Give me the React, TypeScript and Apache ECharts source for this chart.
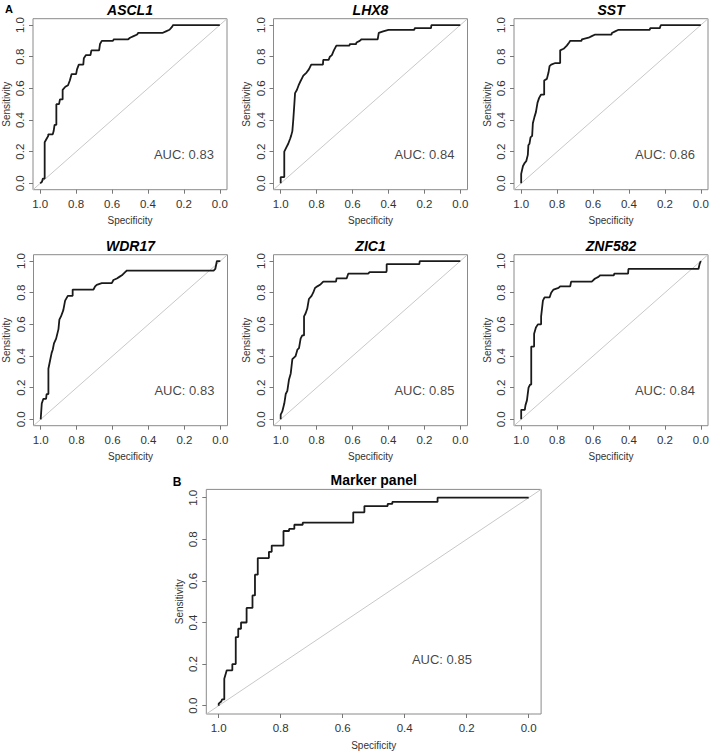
import React, { useEffect, useRef } from "react";
import * as echarts from "echarts";

// ---------- data ----------
const AXIS_TICKS = [0, 0.2, 0.4, 0.6, 0.8, 1.0];
const PANEL_NAMES = ["ASCL1", "LHX8", "SST", "WDR17", "ZIC1", "ZNF582", "Marker panel"];
const AUC_TEXTS = ["AUC: 0.83", "AUC: 0.84", "AUC: 0.86", "AUC: 0.83", "AUC: 0.85", "AUC: 0.84", "AUC: 0.85"];

// ROC curves as [specificity, sensitivity]
const ASCL1 = [[1.0,0],[0.99,0.01],[0.985,0.03],[0.975,0.03],[0.975,0.26],[0.965,0.28],[0.955,0.30],[0.955,0.31],[0.93,0.31],[0.925,0.33],[0.92,0.37],[0.91,0.37],[0.91,0.50],[0.895,0.50],[0.89,0.53],[0.875,0.53],[0.875,0.59],[0.86,0.61],[0.845,0.62],[0.835,0.65],[0.825,0.69],[0.80,0.69],[0.795,0.72],[0.785,0.75],[0.76,0.75],[0.757,0.79],[0.745,0.81],[0.72,0.81],[0.715,0.84],[0.672,0.84],[0.667,0.88],[0.657,0.90],[0.595,0.90],[0.59,0.91],[0.51,0.91],[0.50,0.92],[0.48,0.93],[0.46,0.94],[0.455,0.95],[0.32,0.95],[0.30,0.96],[0.28,0.97],[0.265,0.99],[0.26,1.0],[0,1.0]];
const LHX8 = [[1.0,0],[1.0,0.04],[0.98,0.04],[0.98,0.20],[0.967,0.23],[0.958,0.25],[0.948,0.28],[0.942,0.30],[0.935,0.33],[0.93,0.40],[0.924,0.50],[0.92,0.57],[0.91,0.59],[0.90,0.62],[0.892,0.64],[0.883,0.66],[0.874,0.68],[0.865,0.69],[0.856,0.70],[0.843,0.72],[0.83,0.75],[0.765,0.75],[0.763,0.78],[0.733,0.78],[0.726,0.80],[0.715,0.81],[0.704,0.84],[0.69,0.87],[0.617,0.87],[0.615,0.88],[0.58,0.88],[0.578,0.89],[0.56,0.90],[0.55,0.91],[0.46,0.91],[0.457,0.93],[0.454,0.95],[0.43,0.96],[0.40,0.97],[0.256,0.97],[0.254,0.98],[0.163,0.98],[0.161,1.0],[0,1.0]];
const SST = [[1.0,0],[1.0,0.06],[0.99,0.11],[0.98,0.13],[0.972,0.14],[0.963,0.18],[0.96,0.24],[0.954,0.25],[0.948,0.29],[0.939,0.30],[0.935,0.38],[0.926,0.42],[0.918,0.45],[0.909,0.51],[0.9,0.54],[0.89,0.56],[0.872,0.56],[0.872,0.65],[0.857,0.66],[0.848,0.70],[0.842,0.74],[0.833,0.75],[0.81,0.76],[0.783,0.76],[0.783,0.84],[0.764,0.85],[0.746,0.87],[0.733,0.89],[0.727,0.90],[0.664,0.90],[0.662,0.91],[0.625,0.92],[0.607,0.93],[0.588,0.94],[0.497,0.94],[0.495,0.95],[0.477,0.96],[0.458,0.97],[0.284,0.97],[0.282,0.98],[0.228,0.98],[0.226,0.99],[0.222,1.0],[0,1.0]];
const WDR17 = [[1.0,0],[0.994,0.10],[0.985,0.13],[0.97,0.13],[0.967,0.16],[0.957,0.16],[0.957,0.32],[0.948,0.37],[0.939,0.42],[0.933,0.44],[0.926,0.48],[0.914,0.51],[0.901,0.57],[0.896,0.63],[0.887,0.65],[0.874,0.69],[0.864,0.75],[0.849,0.78],[0.822,0.78],[0.822,0.82],[0.706,0.82],[0.697,0.84],[0.688,0.85],[0.66,0.86],[0.604,0.86],[0.595,0.88],[0.576,0.89],[0.562,0.90],[0.548,0.91],[0.53,0.93],[0.52,0.94],[0.037,0.94],[0.028,0.95],[0.019,1.0],[0,1.0]];
const ZIC1 = [[1.0,0],[1.0,0.03],[0.991,0.05],[0.98,0.10],[0.972,0.16],[0.963,0.18],[0.954,0.25],[0.944,0.29],[0.935,0.38],[0.917,0.40],[0.907,0.44],[0.898,0.45],[0.889,0.51],[0.88,0.53],[0.87,0.53],[0.87,0.65],[0.861,0.67],[0.852,0.70],[0.843,0.76],[0.828,0.78],[0.819,0.80],[0.809,0.83],[0.796,0.84],[0.781,0.85],[0.763,0.87],[0.692,0.87],[0.689,0.89],[0.633,0.89],[0.624,0.92],[0.513,0.92],[0.505,0.93],[0.412,0.93],[0.41,0.94],[0.41,0.98],[0.228,0.98],[0.226,1.0],[0,1.0]];
const ZNF582 = [[1.0,0],[1.0,0.06],[0.98,0.06],[0.976,0.09],[0.968,0.12],[0.959,0.20],[0.95,0.22],[0.944,0.22],[0.944,0.46],[0.928,0.46],[0.928,0.54],[0.918,0.58],[0.907,0.60],[0.889,0.60],[0.889,0.65],[0.879,0.75],[0.87,0.77],[0.842,0.77],[0.833,0.80],[0.82,0.82],[0.792,0.83],[0.783,0.84],[0.727,0.84],[0.722,0.87],[0.607,0.87],[0.598,0.88],[0.588,0.89],[0.57,0.90],[0.56,0.91],[0.484,0.91],[0.482,0.92],[0.405,0.92],[0.403,0.95],[0.013,0.95],[0.007,0.98],[0,1.0]];
const MARKER = [[1.0,0],[1.0,0.01],[0.992,0.02],[0.989,0.03],[0.982,0.03],[0.982,0.13],[0.974,0.17],[0.956,0.17],[0.956,0.20],[0.945,0.20],[0.945,0.33],[0.937,0.33],[0.937,0.37],[0.928,0.37],[0.928,0.40],[0.91,0.40],[0.91,0.47],[0.891,0.47],[0.891,0.53],[0.883,0.53],[0.883,0.63],[0.874,0.63],[0.874,0.71],[0.838,0.71],[0.838,0.74],[0.829,0.74],[0.829,0.77],[0.791,0.77],[0.791,0.84],[0.773,0.84],[0.773,0.85],[0.756,0.85],[0.756,0.87],[0.729,0.87],[0.729,0.88],[0.566,0.88],[0.566,0.93],[0.53,0.93],[0.53,0.96],[0.455,0.96],[0.455,0.97],[0.44,0.97],[0.44,0.98],[0.294,0.98],[0.294,1.0],[0,1.0]];
const CURVES = [ASCL1, LHX8, SST, WDR17, ZIC1, ZNF582, MARKER];
const AUC_POS = [[0.2,0.18],[0.2,0.18],[0.2,0.18],[0.2,0.18],[0.2,0.18],[0.2,0.18],[0.28,0.22]];

// ---------- layout (pixels) ----------
const BOXES = [
  { left: 33, top: 18.7, width: 194, height: 171 },
  { left: 273.5, top: 18.7, width: 194, height: 171 },
  { left: 514, top: 18.7, width: 194, height: 171 },
  { left: 33.5, top: 254.7, width: 194, height: 171 },
  { left: 273.5, top: 254.7, width: 194, height: 171 },
  { left: 514, top: 254.7, width: 194, height: 171 },
  { left: 206.3, top: 489.4, width: 334.8, height: 224.6 },
];

const FONT = "'Liberation Sans', Arial, Helvetica, sans-serif";
const EXT = 0.04;

export default function App() {
  const ref = useRef<HTMLDivElement>(null);
  useEffect(() => {
    if (!ref.current) return;
    const chart = echarts.init(ref.current, undefined, { renderer: "svg" });
    const grid: any[] = [];
    const xAxis: any[] = [];
    const yAxis: any[] = [];
    const series: any[] = [];
    const graphic: any[] = [];
    BOXES.forEach((b, i) => {
      grid.push({
        left: b.left, top: b.top, width: b.width, height: b.height,
        show: true, borderColor: "#8a8a8a", borderWidth: 1, backgroundColor: "transparent",
        containLabel: false, outerBoundsMode: "none",
      });
      const common = {
        type: "value", min: -EXT, max: 1 + EXT, gridIndex: i,
        splitLine: { show: false },
        axisLine: { show: false, onZero: false },
        axisTick: { show: true, customValues: AXIS_TICKS, length: 4, lineStyle: { color: "#777", width: 1 } },
        nameLocation: "middle",
        nameTextStyle: { fontFamily: FONT, fontSize: 10, color: "#333" },
      };
      xAxis.push({
        ...common,
        position: "bottom",
        inverse: true,
        name: "Specificity",
        nameGap: 26,
        axisLabel: {
          customValues: AXIS_TICKS, margin: 8, fontFamily: FONT, fontSize: 11.5, color: "#333",
          formatter: (v: number) => v.toFixed(1),
        },
      });
      yAxis.push({
        ...common,
        position: "left",
        name: "Sensitivity",
        nameGap: 22,
        axisLabel: {
          customValues: AXIS_TICKS, margin: 7, rotate: 90, fontFamily: FONT, fontSize: 11.5, color: "#333",
          formatter: (v: number) => v.toFixed(1),
        },
      });
      series.push({
        type: "line", xAxisIndex: i, yAxisIndex: i, silent: true,
        data: [[1 + EXT, -EXT], [-EXT, 1 + EXT]],
        symbol: "none", lineStyle: { color: "#c8c8c8", width: 1 },
      });
      series.push({
        type: "line", xAxisIndex: i, yAxisIndex: i, silent: true,
        data: CURVES[i], symbol: "none",
        lineStyle: { color: "#1a1a1a", width: 1.8 },
      });
      series.push({
        type: "scatter", xAxisIndex: i, yAxisIndex: i, silent: true,
        data: [AUC_POS[i]], symbolSize: 1, itemStyle: { color: "rgba(0,0,0,0)" },
        label: {
          show: true, position: "inside", formatter: AUC_TEXTS[i],
          fontFamily: FONT, fontSize: 13, color: "#111",
        },
      });
      const isMarker = i === 6;
      graphic.push({
        type: "text", x: b.left + b.width / 2, y: b.top - 9,
        style: {
          text: PANEL_NAMES[i], align: "center", verticalAlign: "middle",
          fontFamily: FONT, fontSize: 14, fontWeight: "bold",
          fontStyle: isMarker ? "normal" : "italic", fill: "#000",
        },
      });
    });
    graphic.push({ type: "text", x: 9, y: 9, style: { text: "A", align: "center", verticalAlign: "middle", fontFamily: FONT, fontSize: 11, fontWeight: "bold", fill: "#000" } });
    graphic.push({ type: "text", x: 177, y: 482, style: { text: "B", align: "center", verticalAlign: "middle", fontFamily: FONT, fontSize: 12, fontWeight: "bold", fill: "#000" } });

    chart.setOption({
      animation: false,
      backgroundColor: "#fff",
      grid, xAxis, yAxis, series, graphic,
    });
    return () => chart.dispose();
  }, []);
  return (
    <div
      ref={ref}
      style={{ position: "absolute", left: 0, top: 0, width: 709, height: 753 }}
    />
  );
}
